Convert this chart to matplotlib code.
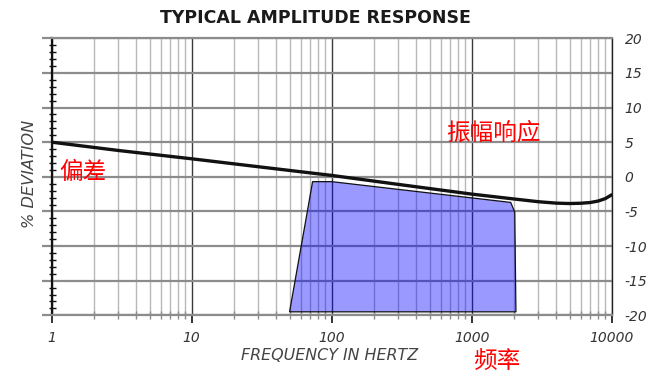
import matplotlib
matplotlib.use("Agg")
import matplotlib.pyplot as plt
from matplotlib.ticker import FixedLocator, NullFormatter, FixedFormatter
import numpy as np

# ---- data ----
curve_freq = [1, 3, 10, 30, 100, 300, 1000, 2000, 3000, 4000, 5000, 6000, 7000, 8000, 9000, 10000]
curve_dev = [5.0, 3.8, 2.6, 1.45, 0.2, -1.1, -2.5, -3.2, -3.6, -3.8, -3.86, -3.82, -3.72, -3.5, -3.15, -2.6]

band_freq = [50, 67, 73, 100, 1900, 2030, 2070]
band_dev = [-19.5, -5.0, -0.7, -0.7, -3.7, -5.1, -19.5]

x_major = [1, 10, 100, 1000, 10000]
x_major_labels = ["1", "10", "100", "1000", "10000"]
y_major = [-20, -15, -10, -5, 0, 5, 10, 15, 20]
y_major_labels = ["-20", "-15", "-10", "-5", "0", "5", "10", "15", "20"]

title = "TYPICAL AMPLITUDE RESPONSE"
xlabel = "FREQUENCY IN HERTZ"
ylabel = "% DEVIATION"
cn_labels = ["偏差", "振幅响应", "频率"]

PX = 0.72  # points per pixel at dpi 100

fig = plt.figure(figsize=(6.66, 3.91), dpi=100)
ax = fig.add_axes([51.7 / 666, 1 - 315.3 / 391, (611.7 - 51.7) / 666, (315.3 - 38.3) / 391])

ax.set_xscale("log")
ax.set_xlim(1, 10000)
ax.set_ylim(-20, 20)

minor_x = [m * d for d in [1, 10, 100, 1000] for m in range(2, 10)]
ax.xaxis.set_major_locator(FixedLocator(x_major))
ax.xaxis.set_major_formatter(FixedFormatter(x_major_labels))
ax.xaxis.set_minor_locator(FixedLocator(minor_x))
ax.xaxis.set_minor_formatter(NullFormatter())

ax.yaxis.set_major_locator(FixedLocator(y_major))
ax.yaxis.set_major_formatter(FixedFormatter(y_major_labels))
ax.yaxis.set_minor_locator(FixedLocator([v for v in range(-20, 21) if v % 5 != 0]))

# grid
ax.set_axisbelow(True)
ax.grid(which="major", axis="y", color="#8c8c8c", lw=1.6, zorder=0)
ax.grid(which="major", axis="x", color="#3a3a3a", lw=1.0, zorder=0)
ax.grid(which="minor", axis="x", color="#b8b8b8", lw=1.0, zorder=0)

# spines
for s in ["top", "bottom"]:
    ax.spines[s].set_color("#8c8c8c")
    ax.spines[s].set_linewidth(1.6)
ax.spines["left"].set_color("#111111")
ax.spines["left"].set_linewidth(1.6)
ax.spines["right"].set_color("#222222")
ax.spines["right"].set_linewidth(1.0)

# ticks
ax.tick_params(axis="y", which="major", left=True, right=False, direction="out",
               length=10 * PX, width=1.6, color="#8c8c8c",
               labelleft=False, labelright=True, pad=2.0,
               labelsize=10, labelcolor="#333333")
ax.tick_params(axis="y", which="minor", left=True, right=False, direction="inout",
               length=7 * PX, width=1.0, color="#111111")
ax.tick_params(axis="x", which="major", bottom=True, top=False, direction="out",
               length=8 * PX, width=1.2, color="#111111", pad=5.5,
               labelsize=10, labelcolor="#333333")
ax.tick_params(axis="x", which="minor", bottom=True, top=False, direction="inout",
               length=8 * PX, width=1.0, color="#8c8c8c")
for lab in ax.get_xticklabels() + ax.get_yticklabels():
    lab.set_fontstyle("italic")
    lab.set_family("DejaVu Sans")

# data
ax.fill(band_freq, band_dev, facecolor=(0, 0, 1, 0.4), edgecolor="#111111", lw=0.9, zorder=3)
ax.plot(curve_freq, curve_dev, color="#111111", lw=2.4, zorder=4, solid_capstyle="round")

# texts
fig.text(315 / 666, 1 - 18 / 391, title, ha="center", va="center",
         fontsize=12.5, fontweight="bold", color="#1a1a1a", family="DejaVu Sans")
fig.text(330 / 666, 1 - 355 / 391, xlabel, ha="center", va="center",
         fontsize=11.4, fontstyle="italic", color="#444444", family="DejaVu Sans")
fig.text(30 / 666, 1 - 174 / 391, ylabel, ha="center", va="center", rotation=90,
         fontsize=11.6, fontstyle="italic", color="#444444", family="DejaVu Sans")

cjk = ["Noto Sans CJK SC", "DejaVu Sans"]
fig.text(83 / 666, 1 - 173 / 391, cn_labels[0], ha="center", va="center",
         fontsize=17, color="red", family=cjk)
fig.text(493 / 666, 1 - 133 / 391, cn_labels[1], ha="center", va="center",
         fontsize=17, color="red", family=cjk)
fig.text(497 / 666, 1 - 362 / 391, cn_labels[2], ha="center", va="center",
         fontsize=17, color="red", family=cjk)

fig.savefig("out.png", dpi=100)
